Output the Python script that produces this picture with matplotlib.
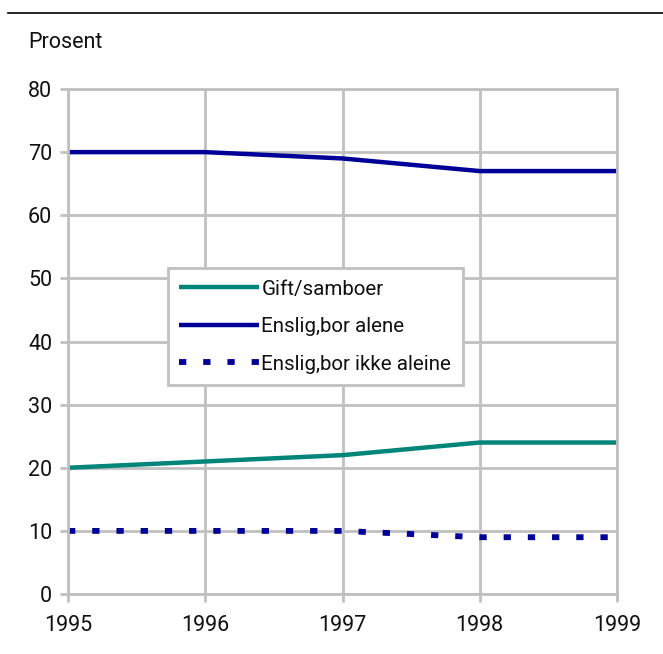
import matplotlib
matplotlib.use("Agg")
import matplotlib.pyplot as plt
from matplotlib.lines import Line2D

years = [1995, 1996, 1997, 1998, 1999]
gift_samboer = [20, 21, 22, 24, 24]
enslig_alene = [70, 70, 69, 67, 67]
enslig_ikke_aleine = [10, 10, 10, 9, 9]
labels = ["Gift/samboer", "Enslig,bor alene", "Enslig,bor ikke aleine"]
y_ticks = [0, 10, 20, 30, 40, 50, 60, 70, 80]

plt.rcParams['font.family'] = ['Roboto', 'DejaVu Sans']
grid_col = "#c0c0c0"
text_col = "#111111"
fs = 15.5

fig = plt.figure(figsize=(6.63, 6.54), dpi=100)
ax = fig.add_axes([0.1026, 0.0917, 0.828, 0.7722])

ax.plot(years, gift_samboer, color="#00857a", lw=3.2, label=labels[0], solid_capstyle="butt")
ax.plot(years, enslig_alene, color="#000099", lw=3.2, label=labels[1], solid_capstyle="butt")
ax.plot(years, enslig_ikke_aleine, color="#000099", lw=4.2, linestyle=(0, (1.25, 2.9)),
        dash_capstyle="butt", label=labels[2])

ax.set_xlim(1995, 1999)
ax.set_ylim(0, 80)
ax.set_xticks(years)
ax.set_yticks(y_ticks)
ax.grid(True, color=grid_col, lw=2)
ax.set_axisbelow(True)
for s in ax.spines.values():
    s.set_color(grid_col)
    s.set_linewidth(2)
ax.tick_params(axis="both", colors=grid_col, width=2, length=5.8, labelsize=fs, labelcolor=text_col)
ax.tick_params(axis="x", pad=9)
ax.tick_params(axis="y", pad=5.5)

leg = ax.legend(loc="upper left", bbox_to_anchor=(0.182, 0.645), fontsize=14.8, frameon=True,
                fancybox=False, edgecolor=grid_col, framealpha=1, handlelength=3.9,
                handletextpad=0.1, borderpad=0.55, labelspacing=0.9, borderaxespad=0)
leg.get_frame().set_linewidth(2)
for t in leg.get_texts():
    t.set_color(text_col)

fig.text(28 / 663, 1 - 43 / 654, "Prosent", fontsize=fs, va="center", ha="left", color=text_col)
fig.add_artist(Line2D([8 / 663, 1], [1 - 13 / 654, 1 - 13 / 654], color="black", lw=1.2))

fig.savefig("out.png", dpi=100)
